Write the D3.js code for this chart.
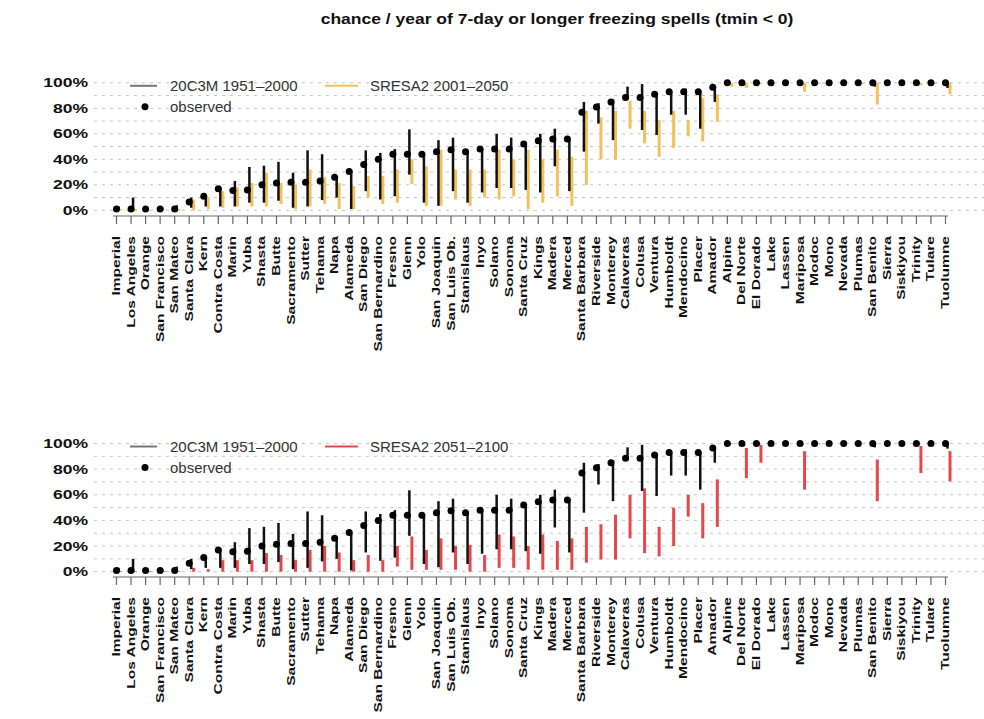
<!DOCTYPE html>
<html>
<head>
<meta charset="utf-8">
<script src="https://cdn.jsdelivr.net/npm/d3@7"></script>
<style>
  body { margin: 0; background: #fff; }
  svg { display: block; }
  text { font-family: "Liberation Sans", Arial, sans-serif; }
</style>
</head>
<body>
<svg id="chart" width="984" height="719"></svg>
<script>
// California counties, ordered by observed chance of a 7-day freezing spell
const counties = [
  "Imperial", "Los Angeles", "Orange", "San Francisco", "San Mateo", "Santa Clara",
  "Kern", "Contra Costa", "Marin", "Yuba", "Shasta", "Butte", "Sacramento", "Sutter",
  "Tehama", "Napa", "Alameda", "San Diego", "San Bernardino", "Fresno", "Glenn", "Yolo",
  "San Joaquin", "San Luis Ob.", "Stanislaus", "Inyo", "Solano", "Sonoma", "Santa Cruz",
  "Kings", "Madera", "Merced", "Santa Barbara", "Riverside", "Monterey", "Calaveras",
  "Colusa", "Ventura", "Humboldt", "Mendocino", "Placer", "Amador", "Alpine", "Del Norte",
  "El Dorado", "Lake", "Lassen", "Mariposa", "Modoc", "Mono", "Nevada", "Plumas",
  "San Benito", "Sierra", "Siskiyou", "Trinity", "Tulare", "Tuolumne"
];

// observed chance per year (%)
const observed = [
  1, 1, 1, 1, 1, 6.5, 11, 17, 15.5, 16, 20, 21.5, 22, 22, 23, 26, 30.5, 36, 40, 44, 44, 44,
  46, 47.5, 46, 48, 48, 48, 52, 54.5, 56, 56, 77, 81, 85, 88.5, 88.5, 91, 93, 93, 93, 96.5,
  100, 100, 100, 100, 100, 100, 100, 100, 100, 100, 100, 100, 100, 100, 100, 100
];

// 20C3M 1951-2000 model range (%)
const histLo = [
  0, 0, 0, 0, 0, 2, 3, 3, 3, 6, 6, 7.5, 2, 3, 8, 10, 1, 15, 8.5, 11, 28, 6,
  3.5, 15, 6, 14, 17.5, 17.5, 16, 14, 34.5, 15, 46, 68, 55, 87, 63, 59, 75, 75, 64, 85,
  99, 98, 99, 100, 100, 99, 100, 100, 100, 100, 97, 100, 100, 99, 100, 96
];
const histHi = [
  3, 10, 2, 2, 4, 10, 12, 18, 23, 34, 35, 38, 29.5, 47, 44, 26, 30.5, 47, 45, 48, 63.5, 44,
  55, 57, 46, 48, 60, 57, 52, 60, 64, 56, 85, 84, 87, 97, 99, 91, 93, 95.5, 93, 96.5,
  100, 100, 100, 100, 100, 100, 100, 100, 100, 100, 100, 100, 100, 100, 100, 100
];

// SRESA2 2001-2050 range (%)
const midLo = [
  0, 0, 0, 0, 0, 0, 1, 2, 3, 3, 3, 5, 1, 3, 5, 1, 1, 10, 5, 6, 20.5, 3.5,
  3.5, 8.5, 3.5, 10, 8.5, 11, 1, 6, 11, 3.5, 20, 40, 40, 64, 52.5, 42, 49, 58, 54, 69.5,
  97, 96, 99, 100, 100, 93, 99, 100, 100, 99, 83, 100, 100, 98, 99, 91
];
const midHi = [
  1, 1, 0.5, 0.5, 1, 8.5, 10, 15, 18, 21.5, 29.5, 21.5, 20, 32, 26, 21.5, 19, 27, 27, 32, 40, 34.5,
  47.5, 32, 32, 32, 47.5, 40, 47.5, 40, 47.5, 42, 78, 73, 78, 86, 78, 71, 78, 71, 88, 91,
  100, 100, 100, 100, 100, 100, 100, 100, 100, 100, 100, 100, 100, 100, 100, 100
];

// SRESA2 2051-2100 range (%)
const lateLo = [
  0, 0, 0, 0, 0, 0, 0, 0, 0, 0, 0, 0, 0, 0, 0, 0, 0, 0, 0, 4, 1.5, 1.5,
  1.5, 1.5, 0, 0, 3, 3, 1.5, 1.5, 1.5, 1.5, 7, 9.5, 9.5, 26, 14.5, 12, 20, 43, 26, 35,
  99.5, 73, 85, 100, 100, 64, 99.5, 100, 100, 100, 55, 100, 100, 77, 100, 70.5
];
const lateHi = [
  0.5, 0.5, 0.5, 0.5, 0.5, 3, 2, 9, 9, 9, 14.5, 13, 9, 17, 20, 15, 9, 13, 9, 20, 27.5, 17,
  26, 20, 21, 13, 29, 27.5, 20, 29, 24, 26, 35, 37, 44.5, 60, 65, 35, 50, 60, 53.5, 72,
  100, 96.5, 99, 100, 100, 94, 100, 100, 100, 100, 87.5, 100, 100, 98, 100, 94
];

const yTicks = [0, 20, 40, 60, 80, 100];
const gridLines = [0, 10, 20, 30, 40, 50, 60, 70, 80, 90, 100];

const svg = d3.select("#chart");

svg.append("text")
  .attr("transform", "translate(557,19) scale(1.25,1)")
  .attr("text-anchor", "middle")
  .attr("dy", "0.35em")
  .attr("font-size", 14)
  .attr("font-weight", "bold")
  .attr("fill", "#111")
  .text("chance / year of 7-day or longer freezing spells (tmin < 0)");

const x = d3.scalePoint().domain(counties).range([116, 945]);

const rows = counties.map((c, i) => ({
  county: c, obs: observed[i],
  hLo: histLo[i], hHi: histHi[i],
  mLo: midLo[i], mHi: midHi[i],
  lLo: lateLo[i], lHi: lateHi[i]
}));

function drawPanel(opts) {
  const { yBottom, yTop, axisY, labelY, lo, hi, color, legendLabel } = opts;
  const y = d3.scaleLinear().domain([0, 100]).range([yBottom, yTop]);
  const g = svg.append("g");

  // dotted horizontal grid every 10%
  g.append("g").selectAll("line").data(gridLines).join("line")
    .attr("x1", 94).attr("x2", 984)
    .attr("y1", d => y(d)).attr("y2", d => y(d))
    .attr("stroke", "#c4c4c4").attr("stroke-width", 1)
    .attr("stroke-dasharray", "3,5");

  // y tick labels
  g.append("g").selectAll("text").data(yTicks).join("text")
    .attr("transform", d => `translate(88,${y(d)}) scale(1.35,1)`)
    .attr("text-anchor", "end").attr("dy", "0.35em")
    .attr("font-size", 13).attr("font-weight", "bold").attr("fill", "#111")
    .text(d => d + "%");

  // x axis with rotated county names
  const axis = d3.axisBottom(x).tickSize(8).tickSizeOuter(0).tickFormat("");
  const ax = g.append("g").attr("transform", `translate(0,${axisY})`).call(axis);
  ax.select(".domain").attr("stroke", "#666").attr("stroke-width", 1.2)
    .attr("d", `M${x(counties[0]) - 3},0H${x(counties[counties.length - 1]) + 3}`);
  ax.selectAll(".tick line").attr("stroke", "#666").attr("stroke-width", 1.2);

  g.append("g").selectAll("text").data(counties).join("text")
    .attr("transform", d => `translate(${x(d)},${labelY}) rotate(-90) scale(1.35,1)`)
    .attr("text-anchor", "end").attr("dy", "0.35em")
    .attr("font-size", 11.5).attr("font-weight", "bold").attr("fill", "#111")
    .text(d => d);

  // scenario ranges
  g.append("g").selectAll("line").data(rows).join("line")
    .attr("x1", d => x(d.county) + 5).attr("x2", d => x(d.county) + 5)
    .attr("y1", d => y(lo(d))).attr("y2", d => y(hi(d)))
    .attr("stroke", color).attr("stroke-width", 3);

  // 20C3M ranges
  g.append("g").selectAll("line").data(rows).join("line")
    .attr("x1", d => x(d.county) + 2.5).attr("x2", d => x(d.county) + 2.5)
    .attr("y1", d => y(d.hLo)).attr("y2", d => y(d.hHi))
    .attr("stroke", "#111").attr("stroke-width", 2.5);

  // observed
  g.append("g").selectAll("circle").data(rows).join("circle")
    .attr("cx", d => x(d.county) + 0.5).attr("cy", d => y(d.obs))
    .attr("r", 3.5).attr("fill", "#000");

  // legend
  const ly = yTop + 3;
  const lg = g.append("g");
  lg.append("line").attr("x1", 130).attr("x2", 157).attr("y1", ly).attr("y2", ly)
    .attr("stroke", "#777").attr("stroke-width", 2);
  lg.append("text").attr("x", 170).attr("y", ly).attr("dy", "0.35em")
    .attr("font-size", 15).attr("fill", "#333").text("20C3M 1951–2000");
  lg.append("circle").attr("cx", 145).attr("cy", ly + 21).attr("r", 3.5).attr("fill", "#000");
  lg.append("text").attr("x", 170).attr("y", ly + 21).attr("dy", "0.35em")
    .attr("font-size", 15).attr("fill", "#333").text("observed");
  lg.append("line").attr("x1", 325).attr("x2", 358).attr("y1", ly).attr("y2", ly)
    .attr("stroke", color).attr("stroke-width", 2);
  lg.append("text").attr("x", 370).attr("y", ly).attr("dy", "0.35em")
    .attr("font-size", 15).attr("fill", "#333").text(legendLabel);
}

drawPanel({
  yBottom: 210.3, yTop: 82.8, axisY: 216, labelY: 236,
  lo: d => d.mLo, hi: d => d.mHi, color: "#f3c05a",
  legendLabel: "SRESA2 2001–2050"
});

drawPanel({
  yBottom: 571.7, yTop: 443.5, axisY: 577, labelY: 597,
  lo: d => d.lLo, hi: d => d.lHi, color: "#e5484a",
  legendLabel: "SRESA2 2051–2100"
});
</script>
</body>
</html>
